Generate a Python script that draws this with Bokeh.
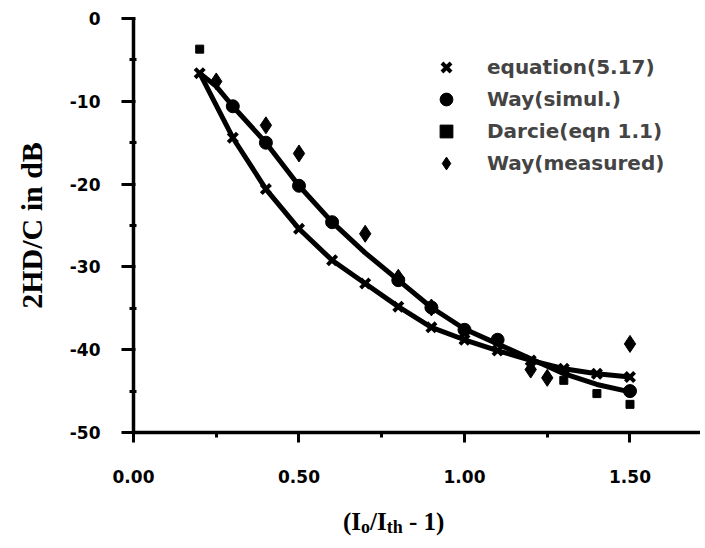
import math
from bokeh.plotting import figure
from bokeh.layouts import column
from bokeh.models import Range1d, FixedTicker, Legend, LegendItem, Div
from bokeh.embed import file_html
from bokeh.resources import INLINE

# --- data ---
eq_x = [0.2, 0.3, 0.4, 0.5, 0.6, 0.7, 0.8, 0.9, 1.0, 1.1, 1.2, 1.3, 1.4, 1.5]
eq_y = [-6.6, -14.4, -20.6, -25.4, -29.2, -32.0, -34.8, -37.3, -38.8, -40.1, -41.3, -42.3, -42.9, -43.3]

simul_x = [0.3, 0.4, 0.5, 0.6, 0.8, 0.9, 1.0, 1.1, 1.5]
simul_y = [-10.6, -15.0, -20.2, -24.6, -31.6, -34.9, -37.6, -38.8, -45.0]

darcie_x = [0.2, 1.3, 1.4, 1.5]
darcie_y = [-3.7, -43.7, -45.3, -46.6]

meas_x = [0.25, 0.4, 0.5, 0.7, 0.8, 0.9, 1.2, 1.25, 1.5]
meas_y = [-7.6, -12.9, -16.3, -26.0, -31.3, -34.9, -42.4, -43.4, -39.3]

# fitted curve through the Way data
fit_x = [0.2, 0.25, 0.3, 0.4, 0.5, 0.6, 0.7, 0.8, 0.9, 1.0, 1.1, 1.2, 1.3, 1.4, 1.5]
fit_y = [-6.6, -8.2, -10.6, -15.0, -20.2, -24.6, -28.3, -31.6, -34.9, -37.5, -39.3, -41.1, -42.9, -44.2, -45.1]

x_ticks = [0.0, 0.5, 1.0, 1.5]
x_minor = [0.25, 0.75, 1.25]
x_tick_labels = ["0.00", "0.50", "1.00", "1.50"]
y_ticks = [0, -10, -20, -30, -40, -50]
y_minor = [-5, -15, -25, -35, -45]
y_tick_labels = ["0", "-10", "-20", "-30", "-40", "-50"]

labels = ["equation(5.17)", "Way(simul.)", "Darcie(eqn 1.1)", "Way(measured)"]

p = figure(width=700, height=500, output_backend="svg", toolbar_location=None,
           x_range=Range1d(0, 1.713), y_range=Range1d(-50, 0),
           min_border_left=133, min_border_right=0, min_border_top=18, min_border_bottom=68)

p.grid.visible = False
p.outline_line_color = None
p.background_fill_color = "white"

for ax in (p.xaxis[0], p.yaxis[0]):
    ax.axis_line_width = 3.5
    ax.axis_line_color = "black"
    ax.major_tick_line_width = 3
    ax.minor_tick_line_width = 3
    ax.major_label_text_font = "DejaVu Sans"
    ax.major_label_text_font_style = "bold"
    ax.major_label_text_font_size = "17px"
    ax.major_label_text_color = "black"

p.xaxis.ticker = FixedTicker(ticks=x_ticks, minor_ticks=x_minor)
p.yaxis.ticker = FixedTicker(ticks=y_ticks, minor_ticks=y_minor)
p.xaxis.major_label_overrides = dict(zip(x_ticks, x_tick_labels))
p.yaxis.major_label_overrides = dict(zip(y_ticks, y_tick_labels))
p.xaxis.major_tick_out = 10
p.xaxis.major_tick_in = 0
p.xaxis.minor_tick_out = 5
p.xaxis.minor_tick_in = 0
p.yaxis.major_tick_out = 12
p.yaxis.major_tick_in = 2
p.yaxis.minor_tick_out = 4
p.yaxis.minor_tick_in = 3
p.xaxis.major_label_standoff = 27
p.yaxis.major_label_standoff = 21

p.yaxis.axis_label = "2HD/C in dB"
p.yaxis.axis_label_text_font = "Liberation Serif"
p.yaxis.axis_label_text_font_style = "bold"
p.yaxis.axis_label_text_font_size = "30px"
p.yaxis.axis_label_text_color = "black"
p.yaxis.axis_label_standoff = 19

# curves
p.line(eq_x, eq_y, line_width=5, line_color="black")
p.line(fit_x, fit_y, line_width=5, line_color="black")

r_eq = p.scatter(eq_x, eq_y, marker="x", size=13, line_width=4, line_color="black")
r_sim = p.scatter(simul_x, simul_y, marker="circle", size=13, fill_color="black", line_color="black")
r_dar = p.scatter(darcie_x, darcie_y, marker="square", size=8, fill_color="black", line_color="black")
r_meas = p.scatter(meas_x, meas_y, marker="diamond", size=17,
                   fill_color="black", line_color="black", line_width=1)

legend = Legend(items=[
    LegendItem(label=labels[0], renderers=[r_eq]),
    LegendItem(label=labels[1], renderers=[r_sim]),
    LegendItem(label=labels[2], renderers=[r_dar]),
    LegendItem(label=labels[3], renderers=[r_meas]),
], location=(297, 253))
legend.border_line_color = None
legend.background_fill_alpha = 0
legend.padding = 0
legend.margin = 0
legend.label_text_font = "DejaVu Sans"
legend.label_text_font_style = "bold"
legend.label_text_font_size = "20px"
legend.spacing = 0
legend.glyph_width = 32
legend.glyph_height = 32
legend.label_height = 32
legend.label_standoff = 25
p.add_layout(legend)

sub = "font-size:18px;vertical-align:-3px;line-height:0"
x_label_html = (
    '<div style="margin:0;padding:7px 0 0 343px;font-family:\'Liberation Serif\';'
    'font-weight:bold;font-size:25px;line-height:29px;white-space:nowrap;color:black">'
    f'(I<sub style="{sub}">o</sub>/I<sub style="{sub}">th</sub> -&nbsp;1)</div>'
)
x_label = Div(text=x_label_html, width=700, height=40, margin=0)

layout = column(p, x_label, spacing=0)
open("out.html", "w").write(file_html(layout, INLINE))
